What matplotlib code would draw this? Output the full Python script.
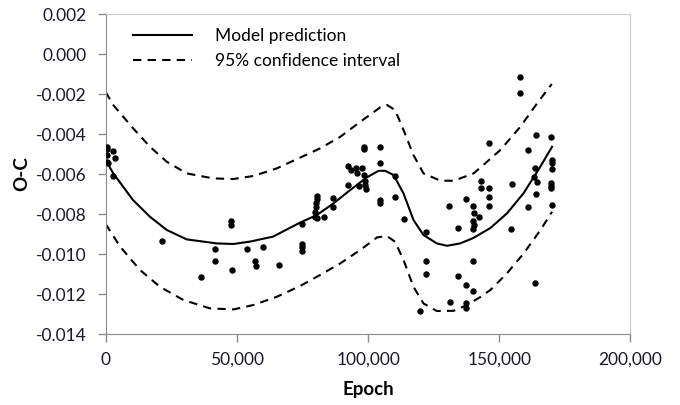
#!/usr/bin/env python3
# -*- coding: utf-8 -*-

import matplotlib
matplotlib.use('Agg')
import matplotlib.pyplot as plt
from matplotlib.ticker import FuncFormatter, MultipleLocator


# observed O-C values
epoch_obs = [380, 610, 610, 610, 880, 2900, 3430, 2900,
             21600, 36200, 41800, 41800, 47700, 47700, 48200, 53900,
             56800, 57100, 60000, 66000,
             75000, 75000, 75000, 75000,
             80500, 80500, 80200, 80200, 79900, 79900, 80500, 83300,
             86600, 86800,
             92500, 92500, 93400, 95500, 95700, 97600, 96500, 98500,
             98900, 98900, 99300, 98500, 98500,
             104400, 104400, 104400, 104400,
             110300, 110100, 113800, 122200, 122200, 122200, 119600,
             158000, 158000, 145900, 143100, 143100, 145900, 145900, 145900,
             137300, 140000, 130900, 140500, 140000, 140200, 140000, 142400,
             134100, 154900, 154600, 164100, 169700, 161000, 163700, 163400,
             164400, 164100, 161000, 170100, 170100, 170100, 169800, 169800,
             169800, 170100, 140000, 134100, 137300, 140000, 163700, 131300,
             137300, 137300]
oc_obs = [-0.00464, -0.00477, -0.00505, -0.00539, -0.00547, -0.00484, -0.00522, -0.00610,
          -0.00937, -0.01114, -0.00977, -0.01037, -0.00834, -0.00854, -0.01082, -0.00977,
          -0.01035, -0.01060, -0.00967, -0.01055,
          -0.00850, -0.00950, -0.00967, -0.00984,
          -0.00710, -0.00727, -0.00747, -0.00767, -0.00789, -0.00814, -0.00822, -0.00817,
          -0.00719, -0.00767,
          -0.00560, -0.00655, -0.00580, -0.00572, -0.00594, -0.00569, -0.00660, -0.00605,
          -0.00635, -0.00655, -0.00677, -0.00464, -0.00477,
          -0.00464, -0.00544, -0.00730, -0.00744,
          -0.00610, -0.00714, -0.00825, -0.00889, -0.01035, -0.01102, -0.01284,
          -0.00114, -0.00194, -0.00447, -0.00635, -0.00670, -0.00670, -0.00714, -0.00760,
          -0.00724, -0.00760, -0.00760, -0.00797, -0.00834, -0.00855, -0.00877, -0.00817,
          -0.00869, -0.00652, -0.00875, -0.00407, -0.00414, -0.00480, -0.00572, -0.00614,
          -0.00640, -0.00702, -0.00764, -0.00530, -0.00547, -0.00574, -0.00647, -0.00660,
          -0.00672, -0.00755, -0.01034, -0.01109, -0.01155, -0.01185, -0.01147, -0.01242,
          -0.01247, -0.01272]

# model prediction
epoch_model = [0, 2800, 10400, 16900, 23300, 30900, 42300, 48600, 55000, 63800,
               74100, 80500, 86800, 93200, 99500, 104000, 106500, 109700, 113500, 117300,
               121100, 126200, 130100, 135100, 140100, 146600, 152900, 159200, 165600, 170100]
oc_model = [-0.00530, -0.00595, -0.00730, -0.00814, -0.00880, -0.00927, -0.00947, -0.00950,
            -0.00938, -0.00913, -0.00843, -0.00805, -0.00747, -0.00680, -0.00617, -0.00584,
            -0.00584, -0.00605, -0.00697, -0.00830, -0.00905, -0.00947, -0.00959, -0.00947,
            -0.00920, -0.00870, -0.00797, -0.00697, -0.00564, -0.00464]

# 95% confidence interval
epoch_upper = [0, 2900, 10500, 16900, 23300, 30900, 41000, 48700, 56300, 65200,
               74100, 81700, 89400, 97000, 104600, 107200, 110300, 113500, 117300, 121100,
               127500, 132600, 140200, 142800, 150400, 158000, 164400, 170000]
oc_upper = [-0.00190, -0.00255, -0.00372, -0.00464, -0.00539, -0.00597, -0.00622, -0.00625,
            -0.00610, -0.00572, -0.00518, -0.00472, -0.00414, -0.00339, -0.00267, -0.00255,
            -0.00280, -0.00380, -0.00505, -0.00597, -0.00633, -0.00634, -0.00597, -0.00568,
            -0.00480, -0.00364, -0.00247, -0.00150]

epoch_lower = [0, 5500, 13100, 20700, 29600, 39800, 48700, 56300, 65200, 74100,
               81700, 89400, 97000, 103400, 107200, 110300, 113500, 117300, 121100, 126200,
               132600, 137700, 142800, 146600, 152900, 159300, 165700, 170100]
oc_lower = [-0.00850, -0.00963, -0.01080, -0.01164, -0.01230, -0.01272, -0.01277, -0.01255,
            -0.01214, -0.01160, -0.01105, -0.01047, -0.00980, -0.00917, -0.00910, -0.00939,
            -0.01030, -0.01164, -0.01247, -0.01285, -0.01284, -0.01255, -0.01215, -0.01180,
            -0.01097, -0.00997, -0.00880, -0.00789]


plt.rcParams['font.family'] = ['Lato', 'DejaVu Sans']
plt.rcParams['axes.unicode_minus'] = False

fig = plt.figure(figsize=(6.8, 4.05), dpi=100)
ax = fig.add_axes([0.1554, 0.1753, 0.7718, 0.7901])

dash = (0, (4, 3))
ax.plot(epoch_model, oc_model, color='black', lw=1.5, label='Model prediction')
ax.plot(epoch_upper, oc_upper, color='black', lw=1.5, ls=dash,
        label='95% confidence interval')
ax.plot(epoch_lower, oc_lower, color='black', lw=1.5, ls=dash)
ax.plot(epoch_obs, oc_obs, 'o', color='black', markersize=3.6, zorder=3)

ax.set_xlim(0, 200000)
ax.set_ylim(-0.014, 0.002)
ax.xaxis.set_major_locator(MultipleLocator(50000))
ax.yaxis.set_major_locator(MultipleLocator(0.002))
ax.xaxis.set_major_formatter(FuncFormatter(lambda v, p: '{:,.0f}'.format(v)))
ax.yaxis.set_major_formatter(FuncFormatter(lambda v, p: '{:.3f}'.format(v)))

for side in ['left', 'bottom']:
    ax.spines[side].set_color('#8c8c8c')
for side in ['top', 'right']:
    ax.spines[side].set_color('#cccccc')
ax.tick_params(axis='both', colors='#8c8c8c', labelcolor='#1a1a2a',
               labelsize=12.5, length=6, width=1)
ax.tick_params(axis='y', pad=8)
ax.tick_params(axis='x', pad=7)

ax.set_xlabel('Epoch', fontsize=13.5, fontweight='bold', labelpad=9)
ax.set_ylabel('O-C', fontsize=13.5, fontweight='bold', labelpad=4)

ax.legend(loc='upper left', bbox_to_anchor=(133 / 680, 1 - 28 / 405),
          bbox_transform=fig.transFigure, frameon=False, fontsize=12.5,
          borderpad=0, borderaxespad=0, handlelength=3.4, handletextpad=1.3,
          labelspacing=0.5)

plt.savefig('out.png', dpi=100)
